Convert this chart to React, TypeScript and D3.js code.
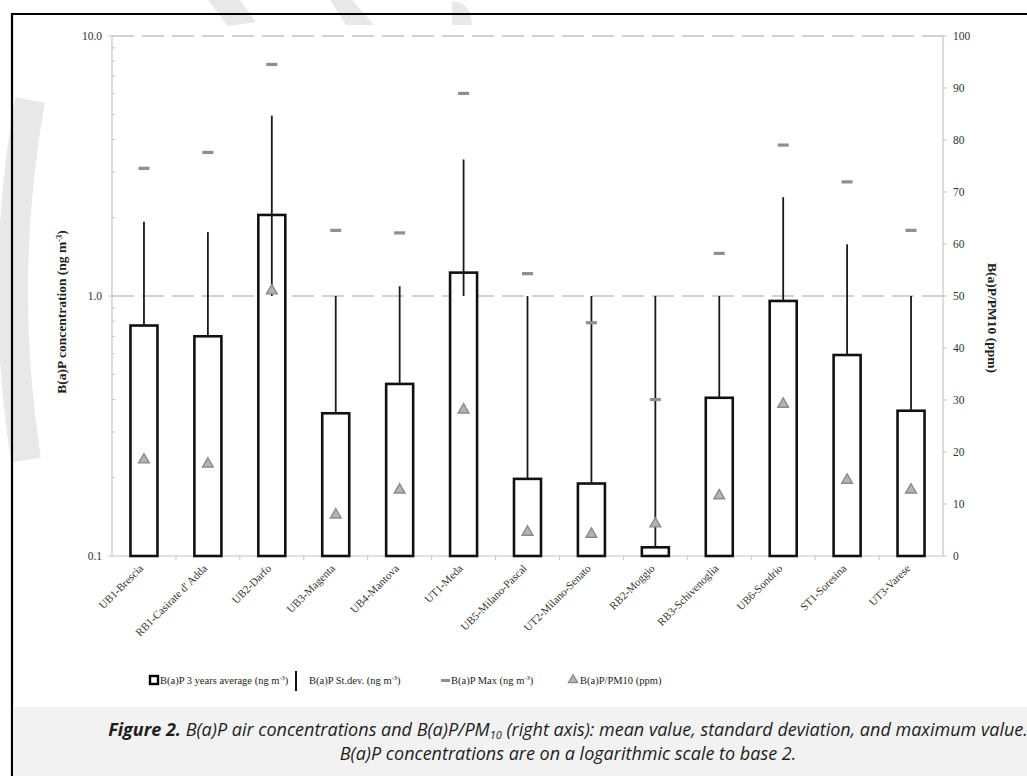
import { useEffect, useRef } from 'react';
import * as d3 from 'd3';

const sites = [
  'UB1-Brescia',
  "RB1-Casirate d' Adda",
  'UB2-Darfo',
  'UB3-Magenta',
  'UB4-Mantova',
  'UT1-Meda',
  'UB5-Milano-Pascal',
  'UT2-Milano-Senato',
  'RB2-Moggio',
  'RB3-Schivenoglia',
  'UB6-Sondrio',
  'ST1-Soresina',
  'UT3-Varese',
];
// B(a)P 3 years average (ng m-3)
const meanValues = [0.77, 0.7, 2.05, 0.354, 0.459, 1.23, 0.198, 0.19, 0.108, 0.406, 0.957, 0.593, 0.362];
// upper end of the st.dev. line (ng m-3)
const sdUpper = [1.93, 1.76, 4.94, 1.0, 1.09, 3.35, 1.0, 1.0, 1.0, 1.0, 2.4, 1.58, 1.0];
// B(a)P Max (ng m-3)
const maxValues = [3.1, 3.57, 7.78, 1.79, 1.75, 6.02, 1.22, 0.79, 0.4, 1.46, 3.81, 2.75, 1.79];
// B(a)P/PM10 (ppm), right axis
const ratioValues = [18.5, 17.7, 51.0, 7.9, 12.7, 28.1, 4.6, 4.2, 6.2, 11.6, 29.2, 14.6, 12.7];

const leftTicks = [0.1, 1, 10];
const leftTickLabels = ['0.1', '1.0', '10.0'];
const rightTicks = [0, 10, 20, 30, 40, 50, 60, 70, 80, 90, 100];

const W = 1027;
const H = 776;
const serif = "'Liberation Serif', 'Times New Roman', serif";

const App = () => {
  const ref = useRef<SVGSVGElement>(null);

  useEffect(() => {
    const svg = d3.select(ref.current);
    svg.selectAll('*').remove();

    const margin = { top: 36, right: 84, bottom: 220, left: 112 };
    const x = d3.scaleBand().domain(sites).range([margin.left, W - margin.right]);
    const y = d3.scaleLog().domain([0.1, 10]).range([H - margin.bottom, margin.top]);
    const yR = d3.scaleLinear().domain([0, 100]).range([H - margin.bottom, margin.top]);
    const cx = (d: string) => (x(d) as number) + x.bandwidth() / 2;
    const barW = 27;
    const x0 = margin.left;
    const x1 = W - margin.right;

    svg.append('rect').attr('width', W).attr('height', H).attr('fill', '#fff');

    // faint watermark pieces
    const wm = svg.append('g').attr('fill', '#e8e8e8').attr('stroke', 'none');
    wm.append('path').attr('d', 'M208,0 L240,0 L256,22 L228,26 Z');
    wm.append('path').attr('d', 'M330,0 L352,0 L374,25 L346,25 Z');
    wm.append('path').attr('d', 'M452,2 Q462,0 470,12 L472,25 L452,25 Z');
    svg
      .append('path')
      .attr('d', 'M30,100 Q-2,280 26,460')
      .attr('fill', 'none')
      .attr('stroke', '#e8e8e8')
      .attr('stroke-width', 30);

    // outer frame
    svg
      .append('path')
      .attr('d', `M12,${H + 5} L12,14 L${W + 5},14`)
      .attr('fill', 'none')
      .attr('stroke', '#000')
      .attr('stroke-width', 2.2);

    // caption box
    svg.append('rect').attr('x', 13).attr('y', 707).attr('width', W).attr('height', 80).attr('fill', '#f2f2f2');

    // dashed grid at major left ticks
    svg
      .append('g')
      .selectAll('line')
      .data([1, 10])
      .enter()
      .append('line')
      .attr('x1', x0)
      .attr('x2', x1)
      .attr('y1', (d) => y(d))
      .attr('y2', (d) => y(d))
      .attr('stroke', '#c4c4c4')
      .attr('stroke-width', 1.4)
      .attr('stroke-dasharray', '22 8');

    const axisColor = '#c4c4c4';

    // left axis
    const left = svg.append('g');
    left
      .append('line')
      .attr('x1', x0)
      .attr('x2', x0)
      .attr('y1', y(0.1))
      .attr('y2', y(10))
      .attr('stroke', axisColor)
      .attr('stroke-width', 1.2);
    const minor = [0.2, 0.3, 0.4, 0.5, 0.6, 0.7, 0.8, 0.9, 2, 3, 4, 5, 6, 7, 8, 9];
    left
      .selectAll('line.minor')
      .data(minor)
      .enter()
      .append('line')
      .attr('x1', x0)
      .attr('x2', x0 + 3)
      .attr('y1', (d) => y(d))
      .attr('y2', (d) => y(d))
      .attr('stroke', axisColor);
    left
      .selectAll('line.major')
      .data(leftTicks)
      .enter()
      .append('line')
      .attr('x1', x0 - 4)
      .attr('x2', x0)
      .attr('y1', (d) => y(d))
      .attr('y2', (d) => y(d))
      .attr('stroke', axisColor);
    left
      .selectAll('text')
      .data(leftTicks)
      .enter()
      .append('text')
      .attr('x', x0 - 10)
      .attr('y', (d) => y(d) + 4)
      .attr('text-anchor', 'end')
      .attr('font-family', serif)
      .attr('font-size', 11.5)
      .attr('fill', '#333')
      .text((_, i) => leftTickLabels[i]);

    // right axis
    const right = svg.append('g');
    right
      .append('line')
      .attr('x1', x1)
      .attr('x2', x1)
      .attr('y1', yR(0))
      .attr('y2', yR(100))
      .attr('stroke', axisColor)
      .attr('stroke-width', 1.2);
    right
      .selectAll('line.t')
      .data(rightTicks)
      .enter()
      .append('line')
      .attr('x1', x1)
      .attr('x2', x1 + 4)
      .attr('y1', (d) => yR(d))
      .attr('y2', (d) => yR(d))
      .attr('stroke', axisColor);
    right
      .selectAll('text')
      .data(rightTicks)
      .enter()
      .append('text')
      .attr('x', x1 + 10)
      .attr('y', (d) => yR(d) + 4)
      .attr('font-family', serif)
      .attr('font-size', 11.5)
      .attr('fill', '#333')
      .text((d) => d);

    // x axis
    const bottom = svg.append('g');
    bottom
      .append('line')
      .attr('x1', x0)
      .attr('x2', x1)
      .attr('y1', y(0.1))
      .attr('y2', y(0.1))
      .attr('stroke', axisColor)
      .attr('stroke-width', 1.2);
    bottom
      .selectAll('line.t')
      .data(sites.slice(1))
      .enter()
      .append('line')
      .attr('x1', (d) => x(d) as number)
      .attr('x2', (d) => x(d) as number)
      .attr('y1', y(0.1))
      .attr('y2', y(0.1) + 4)
      .attr('stroke', axisColor);
    bottom
      .selectAll('text')
      .data(sites)
      .enter()
      .append('text')
      .attr('transform', (d) => `translate(${cx(d)},${y(0.1) + 13}) rotate(-45)`)
      .attr('text-anchor', 'end')
      .attr('font-family', serif)
      .attr('font-size', 11)
      .attr('fill', '#333')
      .text((d) => d);

    // bars
    svg
      .append('g')
      .selectAll('rect')
      .data(sites)
      .enter()
      .append('rect')
      .attr('x', (d) => cx(d) - barW / 2)
      .attr('y', (_, i) => y(meanValues[i]))
      .attr('width', barW)
      .attr('height', (_, i) => y(0.1) - y(meanValues[i]))
      .attr('fill', '#fff')
      .attr('stroke', '#111')
      .attr('stroke-width', 2.6);

    // st.dev lines
    svg
      .append('g')
      .selectAll('line')
      .data(sites)
      .enter()
      .append('line')
      .attr('x1', (d) => cx(d))
      .attr('x2', (d) => cx(d))
      .attr('y1', (_, i) => y(Math.min(meanValues[i], 1)))
      .attr('y2', (_, i) => y(sdUpper[i]))
      .attr('stroke', '#1a1a1a')
      .attr('stroke-width', 1.8);

    // max markers
    svg
      .append('g')
      .selectAll('rect')
      .data(sites)
      .enter()
      .append('rect')
      .attr('x', (d) => cx(d) - 5.5)
      .attr('y', (_, i) => y(maxValues[i]) - 1.5)
      .attr('width', 11)
      .attr('height', 3.2)
      .attr('fill', '#8e8e8e');

    // ratio triangles
    const tri = d3.symbol().type(d3.symbolTriangle).size(50);
    svg
      .append('g')
      .selectAll('path')
      .data(sites)
      .enter()
      .append('path')
      .attr('d', tri)
      .attr('transform', (d, i) => `translate(${cx(d)},${yR(ratioValues[i])})`)
      .attr('fill', '#b4b4b4')
      .attr('stroke', '#8a8a8a')
      .attr('stroke-width', 1.4);

    // axis titles
    const unitText = (g, prefix: string, suffix: string, size: number) => {
      g.append('tspan').text(prefix);
      g.append('tspan').attr('dy', -4).attr('font-size', size * 0.62).text('-3');
      g.append('tspan').attr('dy', 4).text(suffix);
    };
    const lt = svg
      .append('text')
      .attr('transform', `translate(66,${(y(0.1) + y(10)) / 2 + 16}) rotate(-90)`)
      .attr('text-anchor', 'middle')
      .attr('font-family', serif)
      .attr('font-weight', 'bold')
      .attr('font-size', 13.5)
      .attr('fill', '#222');
    unitText(lt, 'B(a)P concentration (ng m', ')', 13.5);

    svg
      .append('text')
      .attr('transform', `translate(988,${(yR(0) + yR(100)) / 2 + 22}) rotate(90)`)
      .attr('text-anchor', 'middle')
      .attr('font-family', serif)
      .attr('font-weight', 'bold')
      .attr('font-size', 13.5)
      .attr('fill', '#222')
      .text('B(a)P/PM10 (ppm)');

    // legend
    const lg = svg.append('g').attr('font-family', serif).attr('font-size', 10.5).attr('fill', '#222');
    const ly = 684;
    lg.append('rect')
      .attr('x', 150)
      .attr('y', ly - 8)
      .attr('width', 8)
      .attr('height', 8)
      .attr('fill', '#fff')
      .attr('stroke', '#000')
      .attr('stroke-width', 2.4);
    unitText(lg.append('text').attr('x', 160).attr('y', ly), 'B(a)P 3 years average (ng m', ')', 10.5);
    lg.append('line')
      .attr('x1', 296)
      .attr('x2', 296)
      .attr('y1', ly - 13)
      .attr('y2', ly + 7)
      .attr('stroke', '#111')
      .attr('stroke-width', 2);
    unitText(lg.append('text').attr('x', 309).attr('y', ly), 'B(a)P St.dev. (ng m', ')', 10.5);
    lg.append('rect').attr('x', 441).attr('y', ly - 5).attr('width', 9).attr('height', 3).attr('fill', '#8e8e8e');
    unitText(lg.append('text').attr('x', 451).attr('y', ly), 'B(a)P Max (ng m', ')', 10.5);
    lg.append('path')
      .attr('d', d3.symbol().type(d3.symbolTriangle).size(38))
      .attr('transform', `translate(573,${ly - 4})`)
      .attr('fill', '#b4b4b4')
      .attr('stroke', '#8a8a8a')
      .attr('stroke-width', 1.2);
    lg.append('text').attr('x', 580).attr('y', ly).text('B(a)P/PM10 (ppm)');

    // caption
    const cap = svg
      .append('g')
      .attr('font-family', "'Open Sans', sans-serif")
      .attr('font-style', 'italic')
      .attr('font-size', 18)
      .attr('fill', '#1e1e1e')
      .attr('text-anchor', 'middle');
    const c1 = cap.append('text').attr('x', 568).attr('y', 736);
    c1.append('tspan').attr('font-weight', 'bold').text('Figure 2.');
    c1.append('tspan').text(' B(a)P air concentrations and B(a)P/PM');
    c1.append('tspan').attr('dy', 3).attr('font-size', 11).text('10');
    c1.append('tspan').attr('dy', -3).text(' (right axis): mean value, standard deviation, and maximum value.');
    cap.append('text').attr('x', 568).attr('y', 760).text('B(a)P concentrations are on a logarithmic scale to base 2.');
  }, []);

  return <svg ref={ref} width={W} height={H} style={{ position: 'absolute', left: 0, top: 0 }} />;
};

export default App;
